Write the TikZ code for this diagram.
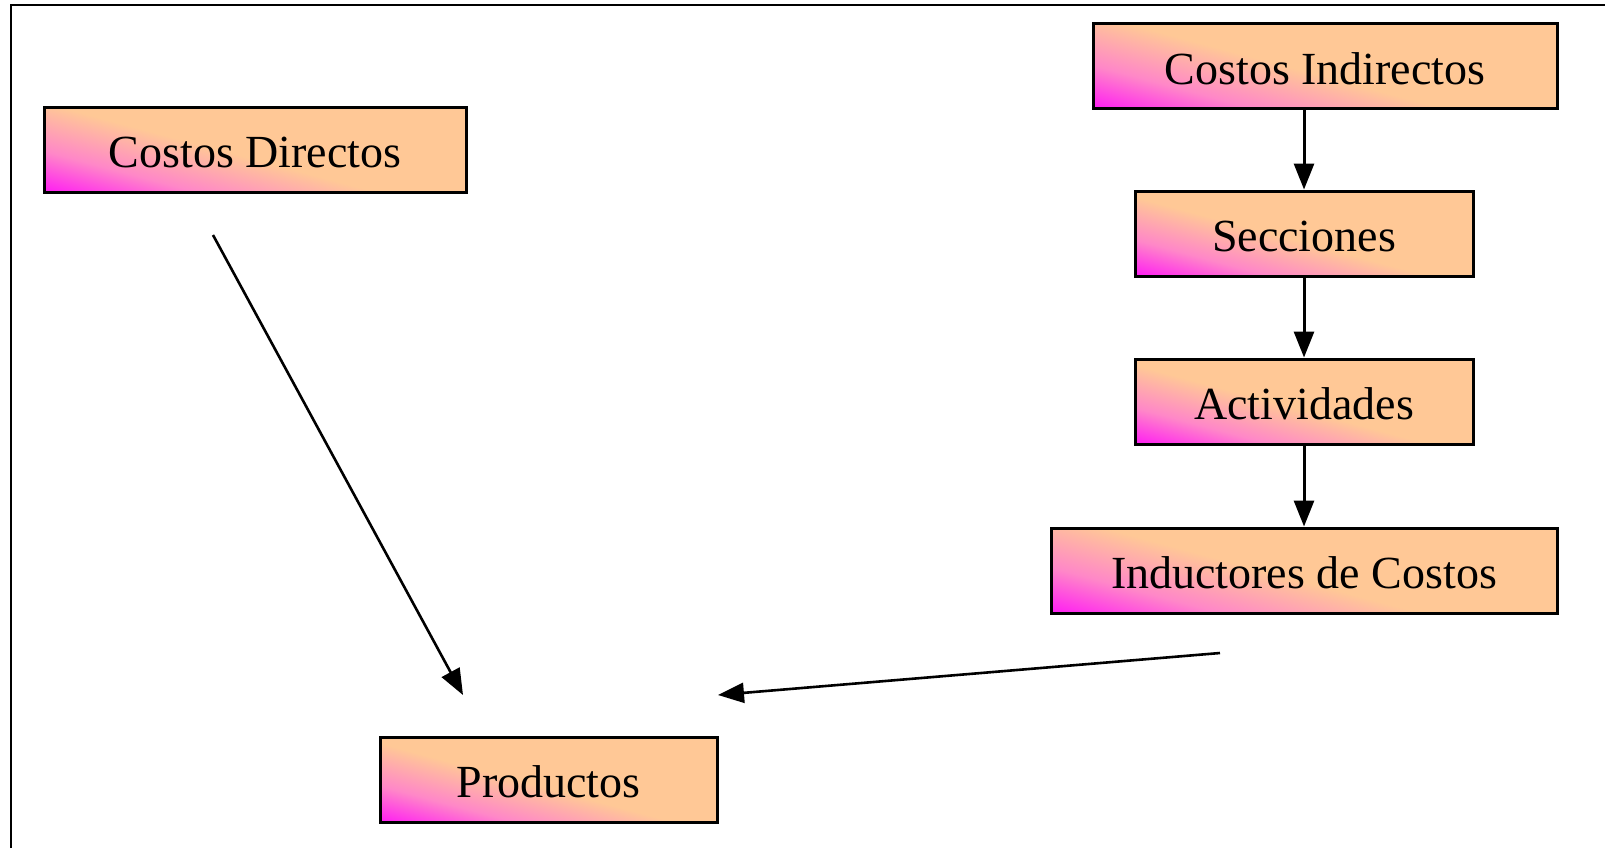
\documentclass[tikz,border=0pt]{standalone}
\usepackage{fontspec}
\setmainfont{Liberation Serif}
\usepackage{tikz}
\usetikzlibrary{calc, arrows.meta, positioning}

\definecolor{durazno}{RGB}{255,200,150}
\definecolor{rosa}{RGB}{255,135,200}
\definecolor{fucsia}{RGB}{255,0,255}
\pgfdeclareverticalshading{cajafondo}{100bp}{color(0bp)=(fucsia); color(16bp)=(fucsia); color(32bp)=(rosa); color(47bp)=(durazno); color(100bp)=(durazno)}

\tikzset{
  caja/.style={draw, line width=1.5pt, shade, shading=cajafondo, shading angle=-15,
    minimum height=42.5pt, inner sep=0pt, text height=18pt, text depth=0pt,
    font=\fontsize{23}{27}\selectfont},
  flecha/.style={line width=1.5pt, -{Triangle[length=13pt, width=10pt]}}
}

\begin{document}
\begin{tikzpicture}[x=0.5pt, y=-0.5pt]
\useasboundingbox (0,0) rectangle (1605,848);
\draw[line width=1.3pt] (11,848) -- (11,5) -- (1605,5);

\node[caja, minimum width=211pt] (cd) at (255,149.5) {Costos Directos};
\node[caja, minimum width=232pt] (ci) at (1325,66) {Costos Indirectos};
\node[caja, minimum width=169pt] (sec) at (1304,233.5) {Secciones};
\node[caja, minimum width=169pt] (act) at (1304,401.5) {Actividades};
\node[caja, minimum width=253pt] (ind) at (1304,570.5) {Inductores de Costos};
\node[caja, minimum width=168.5pt] (prod) at (548.5,779.5) {Productos};

\draw[flecha] (sec |- ci.south) -- (sec.north);
\draw[flecha] (sec.south) -- (act.north);
\draw[flecha] (act.south) -- (ind.north);

\coordinate (cdSal) at (213,235);
\coordinate (prodIzq) at (463,695);
\coordinate (indSal) at (1220,653);
\coordinate (prodDer) at (718,695);
\draw[flecha, line width=1.3pt] (cdSal) -- (prodIzq);
\draw[flecha, line width=1.3pt] (indSal) -- (prodDer);

\end{tikzpicture}
\end{document}
